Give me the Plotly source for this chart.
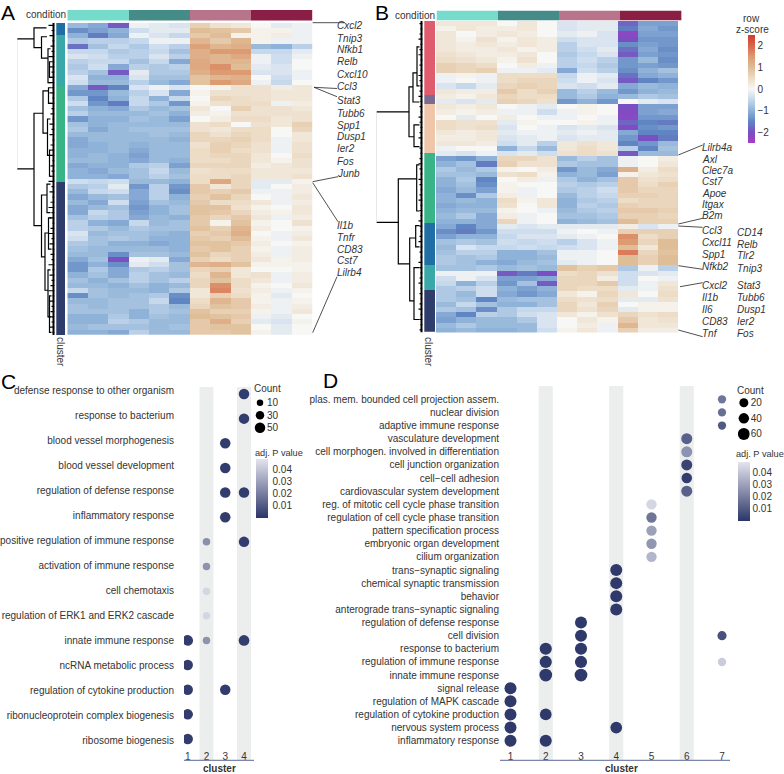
import numpy as np
import plotly.graph_objects as go

W, H = 784, 774

# ---------- heatmap data (row z-score x 10) ----------
samples = ["s1", "s2", "s3", "s4", "s5", "s6", "s7", "s8", "s9", "s10", "s11", "s12"]
heat_a = [
[-9,-11,-19,-1,-2,-3,7,4,3,0,-2,-1],[-14,-12,-10,-4,-2,-2,10,9,8,1,1,-1],[-10,-16,-11,-1,-3,-5,8,10,1,1,2,-1],
[-7,-6,-6,-5,-1,-1,11,8,11,1,-1,-1],[-17,-8,-5,-7,-4,-6,14,11,12,-9,-10,-6],[-5,-5,-7,-6,-5,-8,12,15,15,-5,-5,-2],
[-3,-4,-6,-6,-3,-6,12,11,13,-1,-4,-1],[-6,-5,-5,-8,-5,-11,13,11,11,-1,-4,0],[-7,-4,-11,-6,-7,-6,13,16,10,-2,-3,0],
[-6,-8,-19,-2,-7,-7,12,15,15,-3,-3,-1],[-3,-10,-10,-3,-8,-8,9,11,12,0,-4,-1],[-4,-9,-9,-6,-9,-11,9,15,13,-1,-5,0],
[-11,-19,-15,-3,-1,-3,0,1,4,4,2,3],[-13,-13,-9,-6,-3,-11,1,4,4,4,3,3],[-7,-15,-10,-5,-10,-5,0,6,5,4,3,3],
[-4,-13,-16,-5,-7,-13,1,4,5,5,-1,2],[-8,-10,-11,-7,-9,-8,3,0,7,4,4,3],[-6,-9,-9,-9,-8,-10,2,1,4,4,4,4],
[-13,-10,-10,-8,-9,-12,0,2,5,5,3,4],[-8,-10,-9,-9,-9,-9,4,5,0,4,3,7],[-7,-11,-9,-8,-8,-8,4,3,5,5,0,6],
[-9,-9,-9,-9,-8,-9,6,4,6,5,0,3],[-11,-9,-9,-9,-9,-10,6,6,7,5,-1,3],[-11,-10,-9,-10,-9,-9,4,7,6,4,-1,4],
[-10,-10,-9,-11,-9,-9,5,7,5,4,-1,4],[-10,-9,-10,-12,-9,-9,5,6,6,3,0,5],[-9,-9,-10,-11,-9,-10,5,5,6,3,1,4],
[-11,-10,-10,-7,-6,-12,6,6,6,2,3,4],[-10,-11,-9,-8,-5,-9,4,5,5,3,3,3],[-10,-10,-11,-8,-6,-8,5,5,6,3,3,4],
[-4,-5,-4,-9,-9,-10,5,13,6,-2,-2,1],[-7,-6,-2,-13,-6,-13,8,3,6,-2,0,2],[-9,-5,-4,-11,-6,-14,8,7,8,-1,-1,2],
[-11,-9,-8,-11,-6,-10,7,9,6,0,-1,3],[-9,-11,-4,-12,-8,-9,8,5,5,3,-1,2],[-11,-9,-8,-13,-10,-8,9,9,4,1,0,3],
[-11,-5,-7,-12,-10,-8,9,8,6,2,1,3],[-8,-6,-7,-11,-9,-10,8,6,8,3,-1,2],[-6,-10,-11,-5,-9,-8,8,1,9,1,0,4],
[-6,-7,-9,-7,-8,-8,9,7,11,2,0,1],[-3,-9,-8,-8,-9,-10,7,8,12,0,-1,2],[-4,-8,-7,-8,-10,-10,8,7,10,1,-1,3],
[-7,-8,-10,-10,-11,-10,9,9,8,2,0,1],[-8,-9,-9,-9,-9,-10,8,9,7,1,-1,2],[-9,-9,-14,-8,-8,-9,9,6,7,2,-1,2],
[-11,-8,-20,-1,-2,-11,7,5,7,3,1,2],[-13,-10,-14,-2,-4,-8,11,12,9,1,1,1],[-13,-7,-11,-7,-6,-8,6,7,3,0,0,1],
[-10,-8,-11,-6,-8,-9,5,11,3,4,-1,2],[-8,-10,-8,-6,-8,-6,6,9,5,3,-1,2],[-9,-9,-10,-8,-10,-9,6,16,5,1,0,3],
[-5,-8,-9,-9,-10,-7,3,17,4,2,-1,1],[-14,-8,-9,-8,-7,-14,3,7,5,1,-2,0],[-9,-9,-8,-8,-5,-15,5,11,8,1,-1,1],
[-8,-9,-8,-8,-7,-9,6,9,8,2,-1,2],[-8,-8,-8,-10,-7,-8,9,7,7,1,-1,3],[-10,-10,-7,-10,-8,-9,10,9,8,-1,-2,0],
[-10,-10,-6,-7,-9,-9,8,12,7,-2,-3,1],[-9,-8,-8,-8,-9,-8,8,9,9,0,-2,0],[-10,-10,-11,-6,-9,-9,8,8,9,1,-2,0],
]
heat_b = [
[3,3,3,0,3,0,-3,-2,-2,-18,-12,-12],[1,3,2,2,3,0,-3,-2,-2,-16,-11,-13],[3,0,2,3,2,0,-2,-1,-3,-22,-12,-12],
[3,1,4,1,3,2,-4,-3,-3,-20,-13,-13],[3,2,3,2,3,2,-6,-3,-3,-14,-12,-13],[3,2,2,3,1,2,-6,-4,-2,-17,-11,-14],
[4,3,2,2,3,0,-7,-5,-3,-19,-12,-13],[5,4,3,1,4,0,-6,-4,-6,-13,-9,-14],[7,6,5,0,2,-1,-6,-5,-7,-13,-12,-13],
[7,6,7,-1,-1,-2,-11,-4,-6,-14,-10,-8],[-1,1,-1,5,5,5,-5,-1,-2,-17,-11,-10],[-1,0,-1,5,6,6,-4,-1,-3,-19,-15,-13],
[-3,-5,-2,6,7,6,-3,-4,-2,-11,-9,-10],[3,2,2,8,5,7,-9,-6,-9,-13,-10,-9],[2,1,3,6,5,5,-9,-7,-10,-9,-7,-8],
[-2,-3,-2,7,6,4,-13,-10,-13,0,-2,-3],[3,2,3,0,-1,-2,0,1,0,-20,-12,-12],[2,1,2,-1,-1,-4,-1,1,0,-21,-12,-11],
[0,-2,0,2,0,-1,-1,0,-1,-22,-13,-13],[5,4,4,-2,1,0,0,1,-1,-18,-15,-16],[5,4,5,-3,0,-1,-3,-2,-3,-21,-14,-13],
[3,2,3,-2,-1,-1,-2,-1,-2,-11,-15,-15],[2,2,3,-3,-2,-1,-3,-2,-2,-13,-20,-16],[3,3,2,-4,-2,-6,3,4,3,-15,-13,-9],
[-1,0,0,-10,-5,-9,3,5,3,-6,-15,-8],[-2,-3,-1,-3,-2,-4,4,5,4,-19,-9,-9],[-12,-13,-10,6,6,4,-9,-6,-8,-1,0,2],
[-10,-8,-16,7,4,4,-7,-8,-8,-1,0,3],[-7,-9,-7,1,0,2,-13,-9,-11,12,2,5],[-8,-8,-9,4,5,1,-10,-9,-12,1,3,4],
[-10,-7,-15,0,2,-1,-7,-10,-8,8,4,5],[-10,-8,-14,1,0,0,-6,-7,-6,8,5,7],[-11,-9,-12,1,-1,0,-7,-6,-4,8,6,6],
[-10,-14,-7,2,-1,0,-9,-6,-5,7,7,6],[-10,-9,-10,5,1,3,-10,-7,-6,5,6,6],[-11,-10,-10,4,0,3,-10,-6,-7,7,6,6],
[-10,-9,-9,1,0,-1,-9,-7,-6,8,8,7],[-9,-7,-11,2,-1,0,-8,-8,-7,7,7,6],[-10,-10,-11,6,-1,0,-10,-9,-8,10,7,7],
[-11,-15,-11,-2,-3,-2,-2,-2,-2,2,-3,-1],[-14,-16,-13,-4,-4,-4,-1,0,-1,7,7,7],[-12,-10,-10,-5,-3,-3,-2,-1,0,16,5,7],
[-8,-7,-8,-4,-5,-4,-6,-3,-1,15,6,10],[-9,-3,-5,-5,-4,-5,-4,-3,-1,10,3,10],[-8,-6,-6,-10,-10,-8,-1,-1,0,18,6,9],
[-7,-8,-7,-10,-10,-9,-1,-1,0,10,7,10],[-7,-8,-10,-11,-9,-8,-2,-1,0,10,7,10],[-8,-8,-7,-9,-8,-9,9,7,8,-7,-1,-6],
[-1,-1,-1,-19,-16,-20,5,6,4,-4,-3,-2],[-4,-1,-3,-12,-12,-11,6,6,2,-4,0,-1],[-5,-10,-6,-13,-8,-19,6,6,8,-4,-1,3],
[-7,-6,-4,-10,-12,-10,6,5,5,-2,-1,4],[-7,-9,-4,-11,-13,-11,3,1,6,3,0,5],[-7,-8,-15,-9,-8,-8,5,4,5,-2,-2,4],
[-9,-5,-8,-10,-10,-8,6,3,7,0,1,1],[-7,-8,-14,-7,-5,-5,6,4,6,-2,1,1],[-11,-15,-6,-7,-4,-3,3,1,4,6,4,5],
[-12,-10,-9,-9,-7,-3,0,3,1,8,3,4],[-9,-7,-9,-9,-9,-3,0,2,-1,11,3,3],[-10,-9,-10,-10,-9,-4,1,3,-1,7,2,2],
]
condition_group = [0, 0, 0, 1, 1, 1, 2, 2, 2, 3, 3, 3]
cluster_sizes_a = [12, 51, 96, 154]
cluster_sizes_b = [74, 9, 50, 70, 42, 25, 42]
cluster_colors_a = ["#1f6fa5", "#38a8a8", "#38b488", "#2f3d6c"]
cluster_colors_b = ["#df5b6e", "#7b6b90", "#f0c6ab", "#38b488", "#1f6fa5", "#38a8a8", "#2f3d6c"]

# dendrogram merges: height, top row, bottom row, top child height, bottom child height
dendro_a = [
(38, 2.6, 27.6, 20.5, 20.5), (20.5, 0.5, 4.3, 8, 13), (13, 2.2, 6.3, 7.5, 6.5), (6.5, 4.5, 11, 4, 4),
(20.5, 16.9, 38.5, 11.5, 13), (11.5, 12.6, 20.7, 6, 7), (13, 32.6, 44.5, 7.5, 9.5), (9.5, 39.9, 50.9, 6, 6.5),
(7, 18, 25, 4, 4), (6, 12, 15, 3, 3), (7.5, 30.5, 36, 4, 4), (6.5, 47, 56, 4, 4), (6, 37, 43, 3, 3),
(5, 52, 59, 3, 3), (5, 7, 10, 2, 2), (5, 24, 29, 3, 3),
]
dendro_b = [
(46.8, 17, 38.3, 13.5, 24.2), (13.5, 12.2, 21.8, 9.5, 8.5), (9.5, 9.5, 15.1, 5.5, 3), (5.5, 4.5, 12, 3, 3),
(8.5, 19.5, 23.7, 3, 3), (24.2, 29.9, 46.3, 5.8, 12.8), (5.8, 27.2, 36.1, 3, 3), (12.8, 41.3, 53.4, 6.8, 8.5),
(6.8, 38.9, 43, 3, 3), (8.5, 47, 57, 3, 3),
]
leaves_a = [6,3,5,2,4,3,6,2,5,3,4,6,3,5,2,6,3,4,2,5,3,5,2,4,3,6,2,4,3,5,
            6,3,5,2,4,6,3,5,2,4,6,3,5,2,4,3,6,2,5,3,4,6,2,5,3,4,6,3,5,2]
leaves_b = [3,2,3,4,2,3,4,2,3,2,4,3,2,3,4,2,3,2,4,3,2,3,4,2,3,2,3,4,3,2,
            4,3,2,3,4,2,3,2,4,3,2,3,4,2,3,2,4,3,2,3,4,2,3,2,3,4,2,3,2,3]

genes_a = ["Cxcl2", "Tnip3", "Nfkb1", "Relb", "Cxcl10", "Ccl3", "Stat3", "Tubb6", "Spp1", "Dusp1", "Ier2", "Fos", "Junb",
           "Il1b", "Tnfr", "CD83", "Cst7", "Lilrb4"]
genes_b1 = ["Lilrb4a", "Axl", "Clec7a", "Cst7", "Apoe", "Itgax", "B2m", "Ccl3", "Cxcl11", "Spp1", "Nfkb2",
            "Cxcl2", "Il1b", "Il6", "CD83", "Tnf"]
genes_b2 = ["CD14", "Relb", "Tlr2", "Tnip3", "Stat3", "Tubb6", "Dusp1", "Ier2", "Fos"]

# ---------- dot plot data ----------
c_terms = ["defense response to other organism", "response to bacterium", "blood vessel morphogenesis",
           "blood vessel development", "regulation of defense response", "inflammatory response",
           "positive regulation of immune response", "activation of immune response", "cell chemotaxis",
           "regulation of ERK1 and ERK2 cascade", "innate immune response", "ncRNA metabolic process",
           "regulation of cytokine production", "ribonucleoprotein complex biogenesis", "ribosome biogenesis"]
c_term_idx = [0, 1, 2, 3, 4, 4, 5, 6, 6, 7, 8, 9, 10, 10, 10, 11, 12, 12, 13, 14]
c_cluster = [4, 4, 3, 3, 3, 4, 3, 2, 4, 2, 2, 2, 1, 2, 4, 1, 1, 3, 1, 1]
c_count = [50, 50, 50, 50, 50, 50, 50, 20, 50, 20, 20, 20, 52, 20, 52, 50, 50, 50, 50, 50]
c_padj = [.002, .002, .002, .002, .002, .002, .002, .025, .002, .026, .045, .045, .002, .026, .002, .002, .002, .002, .002, .002]

d_terms = ["plas. mem. bounded cell projection assem.", "nuclear division", "adaptive immune response",
           "vasculature development", "cell morphogen. involved in differentiation", "cell junction organization",
           "cell\u2212cell adhesion", "cardiovascular system development", "reg. of mitotic cell cycle phase transition",
           "regulation of cell cycle phase transition", "pattern specification process", "embryonic organ development",
           "cilium organization", "trans\u2212synaptic signaling", "chemical synaptic transmission", "behavior",
           "anterograde trans\u2212synaptic signaling", "regulation of defense response", "cell division",
           "response to bacterium", "regulation of immune response", "innate immune response", "signal release",
           "regulation of MAPK cascade", "regulation of cytokine production", "nervous system process",
           "inflammatory response"]
d_term_idx = [0, 1, 2, 3, 4, 5, 6, 7, 8, 9, 10, 11, 12, 13, 14, 15, 16, 17, 18, 18, 19, 19, 20, 20, 20, 21, 21,
              22, 23, 24, 24, 25, 25, 26, 26]
d_cluster = [7, 7, 7, 6, 6, 6, 6, 6, 5, 5, 5, 5, 5, 4, 4, 4, 4, 3, 3, 7, 3, 2, 3, 2, 7, 3, 2,
             1, 1, 1, 2, 1, 4, 1, 2]
d_count = [10, 10, 10, 47, 47, 47, 40, 47, 38, 38, 38, 38, 38, 60, 60, 60, 60, 60, 60, 22, 62, 62, 62, 62, 12, 70, 70,
           60, 60, 60, 56, 60, 56, 60, 60]
d_padj = [.018, .016, .010, .012, .026, .004, .002, .012, .045, .018, .030, .027, .036, .001, .001, .001, .001,
          .001, .001, .008, .001, .001, .001, .001, .042, .001, .001, .001, .001, .001, .001, .001, .001, .001, .001]

legend_c = ["10", "30", "50"]
legend_d = ["20", "40", "60"]


def dx(a, b):
    return [a / W, b / W]


def dy(top, bot):
    return [1 - bot / H, 1 - top / H]


hidden = dict(visible=False, showgrid=False, zeroline=False, fixedrange=True)
fig = go.Figure()
layout = {}
counter = [0]


def axes(xdom, ydom, xopts=None, yopts=None):
    counter[0] += 1
    n = counter[0]
    s = "" if n == 1 else str(n)
    x = dict(hidden); x.update(domain=xdom, anchor="y" + s); x.update(xopts or {})
    y = dict(hidden); y.update(domain=ydom, anchor="x" + s); y.update(yopts or {})
    layout["xaxis" + s] = x
    layout["yaxis" + s] = y
    return "x" + s, "y" + s


heat_scale = [[0, "#a53dc4"], [.1, "#7a4fc2"], [.2, "#5f86c2"], [.3, "#8fb2d8"], [.4, "#c5d8ec"], [.5, "#f7f7f5"],
              [.6, "#eddcc6"], [.7, "#dfbd97"], [.8, "#dd9b72"], [.9, "#d8654a"], [1, "#d23a30"]]
cond_scale = [[0, "#75dccb"], [.249, "#75dccb"], [.25, "#458b88"], [.499, "#458b88"],
              [.5, "#b8748a"], [.749, "#b8748a"], [.75, "#8b1e45"], [1, "#8b1e45"]]


def heat_panel(mat, xdom, ydom, cond_xdom, cond_ydom, bar_xdom, bar_ydom, sizes, colors, den_xdom, den_h, nodes, leaves, spine):
    z = np.array(mat) / 10
    rows = list(range(len(z)))
    xa, ya = axes(xdom, ydom, yopts=dict(range=[len(z) - .5, -.5]))
    fig.add_trace(go.Heatmap(z=z, x=samples, y=rows, coloraxis="coloraxis", xaxis=xa, yaxis=ya, hoverinfo="skip"))
    xa, ya = axes(cond_xdom, cond_ydom)
    fig.add_trace(go.Heatmap(z=[condition_group], x=samples, y=["condition"], colorscale=cond_scale, zmin=0, zmax=3,
                             showscale=False, xaxis=xa, yaxis=ya, hoverinfo="skip"))
    xa, ya = axes(bar_xdom, bar_ydom, xopts=dict(range=[-.5, .5]), yopts=dict(range=[sum(sizes), 0]))
    for s, c in zip(sizes, colors):
        fig.add_trace(go.Bar(x=["cluster"], y=[s], width=1, marker=dict(color=c, line_width=0), showlegend=False,
                             xaxis=xa, yaxis=ya, hoverinfo="skip"))
    xa, ya = axes(den_xdom, ydom, xopts=dict(range=[den_h, 0]), yopts=dict(range=[len(z) - .5, -.5]))
    px, py = [], []
    for h, t, b, ct, cb in nodes:
        px += [ct, h, h, cb, None]
        py += [t, t, b, b, None]
    fig.add_trace(go.Scatter(x=px, y=py, mode="lines", line=dict(color="black", width=1.2), showlegend=False,
                             xaxis=xa, yaxis=ya, hoverinfo="skip"))
    lx, ly = [], []
    for r, h in zip(rows, leaves):
        lx += [h, 0, None]
        ly += [r, r, None]
    fig.add_trace(go.Scatter(x=lx, y=ly, mode="lines", line=dict(color="black", width=1.2), showlegend=False,
                             xaxis=xa, yaxis=ya, hoverinfo="skip"))
    fig.add_trace(go.Scatter(x=[0, 0], y=[-.5, len(z) - .5], mode="lines", line=dict(color="black", width=spine),
                             showlegend=False, xaxis=xa, yaxis=ya, hoverinfo="skip"))


heat_panel(heat_a, dx(67.3, 312.7), dy(22.7, 335), dx(67.3, 312.7), dy(10, 20.5), dx(56.3, 65.7), dy(22.7, 335),
           cluster_sizes_a, cluster_colors_a, dx(17.3, 54.5), 37.2, dendro_a, leaves_a, 4)
heat_panel(heat_b, dx(436, 678.3), dy(21, 332.5), dx(436.5, 681.7), dy(10.5, 20.5), dx(424.3, 435), dy(21, 331.7),
           cluster_sizes_b, cluster_colors_b, dx(376.7, 422.5), 45.8, dendro_b, leaves_b, 4)

tick_font = dict(family="Liberation Sans", size=10, color="#333333")


def dot_panel(terms, idx, clusters, counts, padj, xdom, xr, axis_pos, dot_ydom, lab_ydom, lab_pos, coloraxis,
              size_a, size_b, band_half, band_top, legend, leg_xdom, leg_ydom):
    xa, ya = axes(xdom, dot_ydom,
                  xopts=dict(visible=True, range=xr, tickvals=list(range(1, max(clusters) + 1)),
                             ticktext=[str(i) for i in range(1, max(clusters) + 1)], ticks="", showline=False,
                             tickfont=tick_font, anchor="free", position=1 - axis_pos / H),
                  yopts=dict(range=[len(terms) - .5, -.5], type="category", categoryorder="array", categoryarray=terms))
    # labels axis, overlaying the same x axis
    counter[0] += 1
    n = counter[0]
    layout["yaxis" + str(n)] = dict(domain=lab_ydom, anchor="free", position=lab_pos / W, type="category",
                                    categoryorder="array", categoryarray=terms, range=[len(terms) - .5, -.5],
                                    showgrid=False, zeroline=False, showline=False, ticks="", tickfont=tick_font,
                                    tickmode="array", tickvals=terms, ticktext=terms, fixedrange=True,
                                    automargin=False)
    fig.add_trace(go.Scatter(x=[1] * len(terms), y=terms, mode="markers", marker=dict(opacity=0, size=1),
                             xaxis=xa, yaxis="y" + str(n), showlegend=False, hoverinfo="skip"))
    for c in range(2, max(clusters) + 1, 2):
        fig.add_shape(type="rect", xref=xa, yref="paper", x0=c - band_half, x1=c + band_half, y0=1 - 760 / H,
                      y1=1 - band_top / H, fillcolor="#eceeee", line_width=0, layer="below")
    fig.add_shape(type="line", xref="paper", yref="paper", x0=xdom[0], x1=xdom[1], y0=1 - 760.3 / H, y1=1 - 760.3 / H,
                  line=dict(color="#7c86aa", width=1.2))
    fig.add_trace(go.Scatter(x=clusters, y=[terms[i] for i in idx], mode="markers",
                             marker=dict(size=[size_a + size_b * c for c in counts], color=padj, coloraxis=coloraxis,
                                         line_width=0, opacity=1),
                             xaxis=xa, yaxis=ya, showlegend=False, hoverinfo="skip"))
    xa2, ya2 = axes(leg_xdom, leg_ydom, xopts=dict(range=[-1, 1]),
                    yopts=dict(visible=True, side="right", type="category", categoryorder="array", categoryarray=legend,
                               range=[2.5, -.5], ticks="", showline=False, showgrid=False, tickfont=tick_font))
    fig.add_trace(go.Scatter(x=[0, 0, 0], y=legend, mode="markers",
                             marker=dict(size=[size_a + size_b * float(v) for v in legend], color="black", line_width=0,
                                         opacity=1),
                             xaxis=xa2, yaxis=ya2, showlegend=False, hoverinfo="skip"))


dot_panel(c_terms, c_term_idx, c_cluster, c_count, c_padj, dx(184, 254), [.803, 4.532], 749,
          dy(381.7, 751.3), dy(378.5, 753.2), 174, "coloraxis2", 5.5, .1, .373, 387, legend_c, dx(254, 266), dy(396.4, 434))
dot_panel(d_terms, d_term_idx, d_cluster, d_count, d_padj, dx(500, 730), [.702, 7.227], 749,
          dy(392.7, 747.3), dy(392.7, 747.3), 499, "coloraxis3", 7.5, .075, .2, 386, legend_d, dx(738, 749.7), dy(394.9, 441.8))

# ---------- text ----------
ann = []


def note(text, x, y, anchor="left", size=10, color="#333333", italic=False, bold=False, angle=0):
    ann.append(dict(text=("<b>%s</b>" % text) if bold else text, x=x / W, y=1 - y / H, xref="paper", yref="paper", showarrow=False,
                    xanchor=anchor, yanchor="middle", textangle=angle, borderpad=0, borderwidth=0,
                    font=dict(family="Liberation Sans", size=size, color=color, style="italic" if italic else "normal")))


for t, y in zip(genes_a, [25.7, 38.3, 50, 62, 74, 86, 101, 113, 125, 137, 149, 161, 173, 225, 237, 249, 261, 273]):
    note(t, 337, y, italic=True)
for t, y in zip(genes_b1, [147.3, 159, 170.5, 181.7, 193.3, 204.7, 215.7, 230.3, 242.3, 254.3, 266, 285, 297.7, 309.7, 321.3, 333]):
    note(t, 701.7, y, italic=True)
for t, y in zip(genes_b2, [232, 244, 255.7, 268, 285, 297, 309, 321, 333]):
    note(t, 737.3, y, italic=True)
note("condition", 65.5, 14.5, "right")
note("condition", 435, 15, "right")
note("cluster", 61, 352, "center", angle=90)
note("cluster", 429, 352, "center", angle=90)
note("row", 751.7, 18, "center")
note("z-score", 752.7, 30, "center")
note("Count", 254, 388.7)
note("adj. P value", 255, 452.7, size=9.2)
note("Count", 737, 390.3)
note("adj. P value", 735.7, 453.7, size=9.2)
note("cluster", 219, 768.5, "center", bold=True)
note("cluster", 621, 768.5, "center", bold=True)
for t, x, y in [("A", 1, 12.5), ("B", 375, 12.5), ("C", 1, 381), ("D", 323, 380)]:
    note(t, x, y, size=21, color="black")

leaders = [(312.7, 22.7, 345, 22.7), (314, 87.3, 337, 88.5), (314, 87.3, 337, 96.7), (312.7, 181.7, 338, 176.7),
           (312.7, 182.7, 338, 221.7), (312.7, 332.7, 337, 276.7), (678.3, 155, 702.7, 145), (678.3, 224, 702.7, 218.3),
           (678.3, 226, 702.7, 227.3), (678.3, 265.7, 702.7, 269.3), (680, 286.7, 702.7, 282.7), (678.3, 330, 702.7, 336.7)]
for x0, y0, x1, y1 in leaders:
    fig.add_shape(type="line", xref="paper", yref="paper", x0=x0 / W, x1=x1 / W, y0=1 - y0 / H, y1=1 - y1 / H,
                  line=dict(color="#222222", width=0.8))

bar_font = dict(family="Liberation Sans", size=10, color="#333333")
p_scale = [[0, "#2b3668"], [1, "#e4e4ee"]]


def p_bar(x, top, gap):
    return dict(x=x / W, xanchor="left", xref="paper", y=1 - top / H, yanchor="top", yref="paper", lenmode="pixels",
                len=59, thicknessmode="pixels", thickness=11.7, xpad=0, ypad=0, outlinewidth=0, ticks="outside",
                tickcolor="rgba(0,0,0,0)", ticklen=gap, tickvals=[.01, .02, .03, .04], tickfont=bar_font)


fig.update_layout(
    width=W, height=H, margin=dict(l=0, r=0, t=0, b=0, autoexpand=False), paper_bgcolor="white", plot_bgcolor="rgba(0,0,0,0)",
    barmode="stack", bargap=0, showlegend=False, annotations=ann,
    coloraxis=dict(cmin=-2.5, cmax=2.5, colorscale=heat_scale,
                   colorbar=dict(x=747.7 / W, xanchor="left", xref="paper", y=1 - 35 / H, yanchor="top", yref="paper",
                                 lenmode="pixels", len=108, thicknessmode="pixels", thickness=7.3, xpad=0, ypad=0,
                                 outlinewidth=0, ticks="", tickvals=[-2, -1, 0, 1, 2], tickfont=bar_font)),
    coloraxis2=dict(cmin=0, cmax=.049, colorscale=p_scale, colorbar=p_bar(256, 459, 3)),
    coloraxis3=dict(cmin=0, cmax=.049, colorscale=p_scale, colorbar=p_bar(738.3, 461.5, 1)),
    **layout,
)
fig.write_html("out.html", config=dict(displayModeBar=False),
               post_script="document.body.style.margin='0';document.documentElement.style.overflow='hidden';")
